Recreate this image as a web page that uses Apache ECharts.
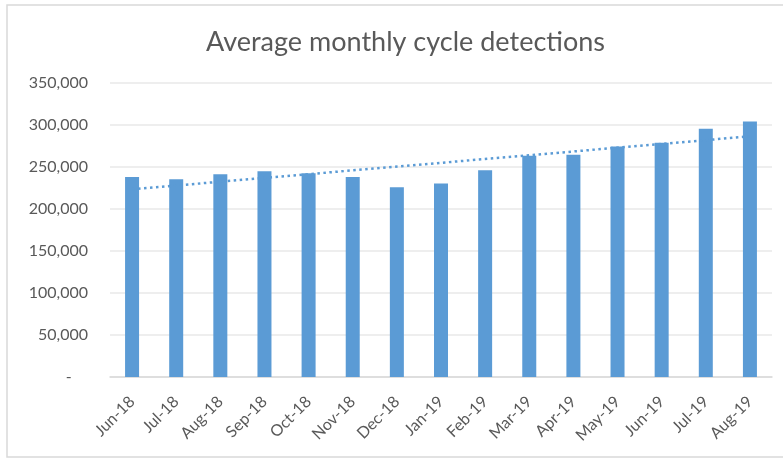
<!DOCTYPE html>
<html>
<head>
<meta charset="utf-8">
<script src="https://cdn.jsdelivr.net/npm/echarts@6/dist/echarts.min.js"></script>
<style>
html,body{margin:0;padding:0;background:#fff;}
#chart{width:783px;height:459px;}
</style>
</head>
<body>
<div id="chart"></div>
<script>
// months on the x axis
var months = ['Jun-18','Jul-18','Aug-18','Sep-18','Oct-18','Nov-18','Dec-18','Jan-19','Feb-19','Mar-19','Apr-19','May-19','Jun-19','Jul-19','Aug-19'];
// average monthly detections
var detections = [238000,235500,241500,245000,242700,238000,226000,230300,246200,263300,264500,274400,278800,295500,304200];
// dotted trend line, start and end values
var trendEnds = [223500,286500];
var yTicks = [0,350000,50000]; // min, max, step

var trend = months.map(function(m,i){
  if(i===0) return trendEnds[0];
  if(i===months.length-1) return trendEnds[1];
  return null;
});

var chart = echarts.init(document.getElementById('chart'));
var font = 'Lato';
var option = {
  backgroundColor:'#fff',
  animation:false,
  title:{
    text:'Average monthly cycle detections',
    left:201,
    top:24,
    textStyle:{fontFamily:font,fontSize:27,fontWeight:'normal',color:'#595959'}
  },
  graphic:[{
    type:'rect',
    shape:{x:7,y:5,width:790,height:452},
    style:{fill:'none',stroke:'#d9d9d9',lineWidth:1.5},
    silent:true
  }],
  grid:{left:110,right:11,top:83,bottom:82},
  xAxis:{
    type:'category',
    data:months,
    axisTick:{show:false},
    axisLine:{lineStyle:{color:'#d9d9d9',width:1.5}},
    axisLabel:{
      rotate:45,
      interval:0,
      margin:22,
      fontFamily:font,
      fontSize:16,
      color:'#595959'
    }
  },
  yAxis:{
    type:'value',
    min:yTicks[0],
    max:yTicks[1],
    interval:yTicks[2],
    axisLine:{show:false},
    axisTick:{show:false},
    splitLine:{lineStyle:{color:'#e8e8e8',width:1.5}},
    axisLabel:{
      margin:22,
      fontFamily:font,
      fontSize:16,
      color:'#595959',
      formatter:function(v){
        return v===0 ? '-    ' : v.toLocaleString('en-US');
      }
    }
  },
  series:[{
    name:'Detections',
    type:'bar',
    data:detections,
    barWidth:14,
    itemStyle:{color:'#5b9bd5'}
  },{
    name:'Trend',
    type:'line',
    data:trend,
    connectNulls:true,
    symbol:'none',
    lineStyle:{color:'#5b9bd5',width:2.5,type:[2.5,3.5]},
    z:3
  }]
};
chart.setOption(option);
</script>
</body>
</html>
